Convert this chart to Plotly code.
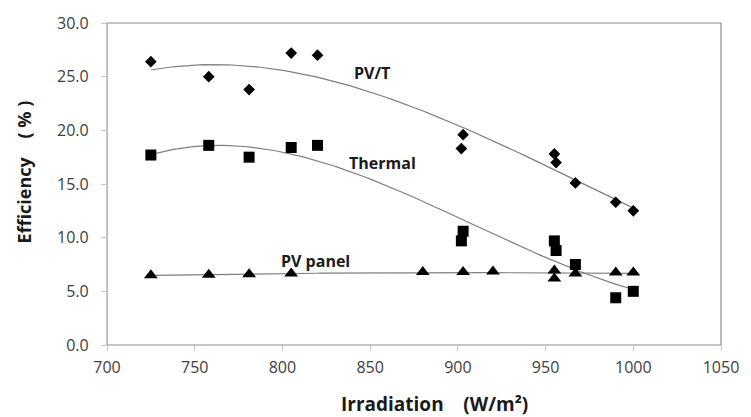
import numpy as np
import plotly.graph_objects as go

# ---- data ----
pvt_x = [725, 758, 781, 805, 820, 903, 902, 955, 956, 967, 990, 1000]
pvt_y = [26.4, 25.0, 23.8, 27.2, 27.0, 19.6, 18.3, 17.8, 17.0, 15.1, 13.3, 12.5]

th_x = [725, 758, 781, 805, 820, 903, 902, 955, 956, 967, 990, 1000]
th_y = [17.7, 18.6, 17.5, 18.4, 18.6, 10.6, 9.7, 9.7, 8.8, 7.5, 4.4, 5.0]

pv_x = [725, 758, 781, 805, 880, 903, 920, 955, 955, 967, 990, 1000]
pv_y = [6.5, 6.55, 6.6, 6.65, 6.8, 6.8, 6.85, 6.95, 6.2, 6.65, 6.75, 6.75]

x_ticks = [700, 750, 800, 850, 900, 950, 1000, 1050]
y_ticks = [0, 5, 10, 15, 20, 25, 30]

labels = ["PV/T", "Thermal", "PV panel"]
label_pos_x = [851, 857, 819]
label_pos_y = [25.3, 17.0, 7.8]

FONT = "Open Sans"
LINE_COL = "#7f7f7f"


def trend(xs, ys, deg):
    p = np.polynomial.Polynomial.fit(xs, ys, deg)
    xx = np.linspace(min(xs), max(xs), 120)
    return xx, p(xx)


fig = go.Figure()

for xs, ys, deg in [(pvt_x, pvt_y, 3), (th_x, th_y, 3), (pv_x, pv_y, 2)]:
    tx, ty = trend(xs, ys, deg)
    fig.add_trace(go.Scatter(x=tx, y=ty, mode="lines",
                             line=dict(color=LINE_COL, width=1.2),
                             hoverinfo="skip", showlegend=False))

fig.add_trace(go.Scatter(x=pvt_x, y=pvt_y, mode="markers",
                         marker=dict(symbol="diamond", size=9, color="black"),
                         showlegend=False))
fig.add_trace(go.Scatter(x=th_x, y=th_y, mode="markers",
                         marker=dict(symbol="square", size=11, color="black"),
                         showlegend=False))
fig.add_trace(go.Scatter(x=pv_x, y=pv_y, mode="markers",
                         marker=dict(symbol="triangle-up", size=12, color="black"),
                         showlegend=False))

for t, lx, ly in zip(labels, label_pos_x, label_pos_y):
    fig.add_annotation(x=lx, y=ly, text="<b>" + t + "</b>", showarrow=False,
                       xanchor="center", yanchor="middle",
                       font=dict(family=FONT, size=16, color="#1a1a1a"))

# axis titles as annotations
fig.add_annotation(xref="paper", yref="paper", x=-0.1346, y=0.537,
                   xanchor="center", yanchor="middle",
                   text="<b>Efficiency\u00a0\u00a0\u00a0\u00a0( % )</b>",
                   textangle=-90, showarrow=False,
                   font=dict(family=FONT, size=18, color="#1a1a1a"))
fig.add_annotation(xref="paper", yref="paper", x=0.534, y=-0.182,
                   xanchor="center", yanchor="middle",
                   text="<b>Irradiation\u00a0\u00a0\u00a0\u00a0(W/m²)</b>",
                   showarrow=False,
                   font=dict(family=FONT, size=19, color="#1a1a1a"))

# plot-area border (top/right darker)
fig.add_shape(type="rect", xref="paper", yref="paper", x0=0, y0=0, x1=1, y1=1,
              line=dict(color="#8c8c8c", width=1.2), layer="below")

fig.update_layout(
    width=751, height=417,
    margin=dict(l=107, r=20, t=21, b=72),
    paper_bgcolor="white", plot_bgcolor="white",
    font=dict(family=FONT, size=16, color="#404040"),
)
fig.update_xaxes(range=[700, 1050], tickvals=x_ticks, ticktext=[str(v) for v in x_ticks],
                 showgrid=False, zeroline=False, showline=True, linecolor="#c8c8c8",
                 linewidth=1.2, ticks="outside", ticklen=5, tickcolor="#c8c8c8",
                 ticklabelstandoff=3)
fig.update_yaxes(range=[0, 30], tickvals=y_ticks, ticktext=[f"{v:.1f}" for v in y_ticks],
                 showgrid=False, zeroline=False, showline=True, linecolor="#c8c8c8",
                 linewidth=1.2, ticks="outside", ticklen=5, tickcolor="#c8c8c8",
                 ticklabelstandoff=9)

fig.write_html("out.html")
